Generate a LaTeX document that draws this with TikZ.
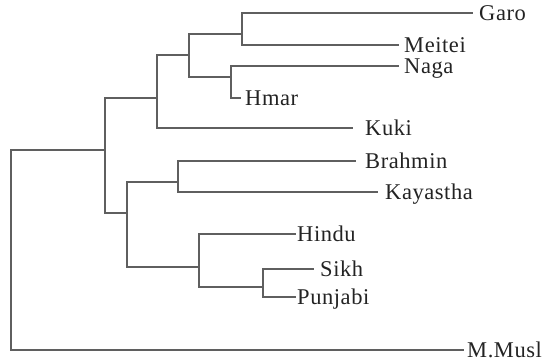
\documentclass[tikz,border=0pt]{standalone}
\usepackage{fontspec}
\setmainfont[LetterSpace=2.5]{Liberation Serif}
\definecolor{linegray}{RGB}{95,95,95}
\definecolor{labelgray}{RGB}{35,35,35}
\begin{document}
\begin{tikzpicture}[x=1pt,y=-1pt,
  branch/.style={draw=linegray, line width=1.2pt, line cap=rect},
  taxon/.style={anchor=base west, inner sep=0pt, text=labelgray,
    font=\fontsize{22.5}{26}\selectfont}]
\useasboundingbox (0,0) rectangle (545,360);

% internal clade points (x of the vertical bar, y where the parent joins)
\coordinate (root) at (11,250);
\coordinate (nA) at (105,150);
\coordinate (nB) at (157,98);
\coordinate (nC) at (189,55);
\coordinate (nD) at (242,34);
\coordinate (nE) at (231,77);
\coordinate (nF) at (127,213);
\coordinate (nG) at (178,182);
\coordinate (nH) at (199,267);
\coordinate (nI) at (263,287);

% tip ends of the terminal branches
\coordinate (garo-end) at (472,13);
\coordinate (meitei-end) at (398,45);
\coordinate (naga-end) at (398,66);
\coordinate (hmar-end) at (240,98);
\coordinate (kuki-end) at (352,128);
\coordinate (brahmin-end) at (355,161);
\coordinate (kayastha-end) at (377,192);
\coordinate (hindu-end) at (295,234);
\coordinate (sikh-end) at (313,269);
\coordinate (punjabi-end) at (295,297);
\coordinate (musl-end) at (463,350);

% taxon labels
\node[taxon] (garo) at (479,20) {Garo};
\node[taxon] (meitei) at (404,52) {Meitei};
\node[taxon] (naga) at (404,73) {Naga};
\node[taxon] (hmar) at (245,105) {Hmar};
\node[taxon] (kuki) at (365,135) {Kuki};
\node[taxon] (brahmin) at (365,168) {Brahmin};
\node[taxon] (kayastha) at (385,199) {Kayastha};
\node[taxon] (hindu) at (297,241) {Hindu};
\node[taxon] (sikh) at (320,276) {Sikh};
\node[taxon] (punjabi) at (297,304) {Punjabi};
\node[taxon] (musl) at (467,357) {M.Musl};

% branches, one bracket per clade
\draw[branch] (nA) -- (root |- nA) -- (root |- musl-end) -- (musl-end);
\draw[branch] (nB) -- (nA |- nB) -- (nA |- nF) -- (nF);
\draw[branch] (nC) -- (nB |- nC) -- (nB |- kuki-end) -- (kuki-end);
\draw[branch] (nD) -- (nC |- nD) -- (nC |- nE) -- (nE);
\draw[branch] (garo-end) -- (nD |- garo-end) -- (nD |- meitei-end) -- (meitei-end);
\draw[branch] (naga-end) -- (nE |- naga-end) -- (nE |- hmar-end) -- (hmar-end);
\draw[branch] (nG) -- (nF |- nG) -- (nF |- nH) -- (nH);
\draw[branch] (brahmin-end) -- (nG |- brahmin-end) -- (nG |- kayastha-end) -- (kayastha-end);
\draw[branch] (hindu-end) -- (nH |- hindu-end) -- (nH |- nI) -- (nI);
\draw[branch] (sikh-end) -- (nI |- sikh-end) -- (nI |- punjabi-end) -- (punjabi-end);
\end{tikzpicture}
\end{document}
